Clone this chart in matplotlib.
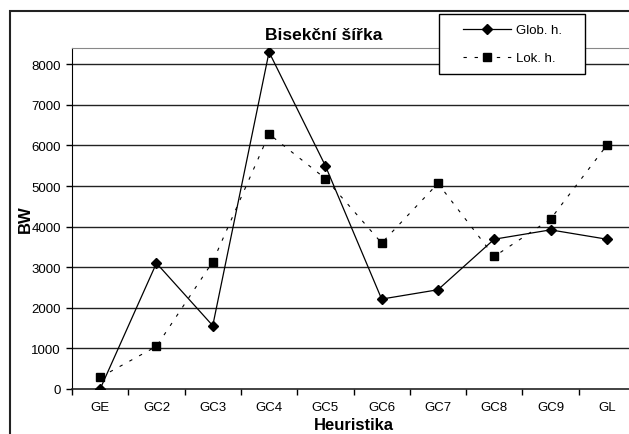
import matplotlib
matplotlib.use("Agg")
import matplotlib.pyplot as plt
from matplotlib.patches import Rectangle

categories = ["GE", "GC2", "GC3", "GC4", "GC5", "GC6", "GC7", "GC8", "GC9", "GL"]
glob_h = [0, 3100, 1560, 8300, 5500, 2215, 2445, 3690, 3920, 3690]
lok_h = [290, 1050, 3135, 6280, 5185, 3595, 5065, 3265, 4185, 6005]
yticks = [0, 1000, 2000, 3000, 4000, 5000, 6000, 7000, 8000]

plt.rcParams['font.family'] = ['Liberation Sans', 'DejaVu Sans']

W, H = 629, 435
fig = plt.figure(figsize=(W / 100, H / 100), dpi=100)

# outer chart border (cropped at right/bottom)
fig.patches.append(Rectangle((10 / W, -0.05), 1.1, (H - 12) / H + 0.05,
                             transform=fig.transFigure, fill=False,
                             edgecolor="#222222", linewidth=1.5))

left, right, top, bottom = 72, 635, 49, 390
ax = fig.add_axes([left / W, (H - bottom) / H, (right - left) / W, (bottom - top) / H])

x = list(range(len(categories)))
ax.plot(x, glob_h, color="black", linewidth=0.9, marker="D", markersize=5.5,
        label="Glob. h.", zorder=3)
ax.plot(x, lok_h, color="black", linewidth=0.8, linestyle=(0, (3, 7)),
        marker="s", markersize=6, label="Lok. h.", zorder=3)

fs = 9.5
ax.set_xlim(-0.5, len(categories) - 0.5)
ax.set_ylim(0, 8400)
ax.set_yticks(yticks)
ax.set_yticklabels([str(v) for v in yticks], fontsize=fs)
ax.set_xticks(x)
ax.set_xticklabels(categories, fontsize=fs)
ax.set_xticks([i + 0.5 for i in range(-1, len(categories))], minor=True)
ax.tick_params(axis="x", which="major", length=0, pad=9)
ax.tick_params(axis="x", which="minor", length=4, direction="out", width=1)
ax.tick_params(axis="y", length=4, direction="out", width=1, pad=4)

for v in yticks[1:]:
    ax.axhline(v, color="#222222", linewidth=1, zorder=1)

ax.spines["top"].set_color("#888888")
ax.spines["right"].set_visible(False)
ax.spines["left"].set_color("black")
ax.spines["bottom"].set_color("#222222")
ax.spines["bottom"].set_linewidth(1.2)

ax.set_ylabel("BW", fontsize=12, fontweight="bold")
ax.yaxis.set_label_coords(-(left - 33) / (right - left), (bottom - 219) / (bottom - top))
ax.set_xlabel("Heuristika", fontsize=12, fontweight="bold")
ax.xaxis.set_label_coords((354 - left) / (right - left), -(418 - bottom) / (bottom - top))

fig.text(324 / W, 1 - 35 / H, "Bisekční šířka", fontsize=12.5, fontweight="bold",
         ha="center", va="center")

# legend box
fig.patches.append(Rectangle((439 / W, 1 - 75 / H), (585 - 439) / W, 60 / H,
                             transform=fig.transFigure, fill=True, facecolor="white",
                             edgecolor="black", linewidth=1, zorder=5))
leg = fig.legend(loc="upper left", bbox_to_anchor=(463 / W, 1 - 25 / H),
                 frameon=False, fontsize=fs, handlelength=3.6, borderpad=0,
                 labelspacing=1.2, handletextpad=0.45, borderaxespad=0)
leg.set_zorder(6)

fig.savefig("out.png", dpi=100)
